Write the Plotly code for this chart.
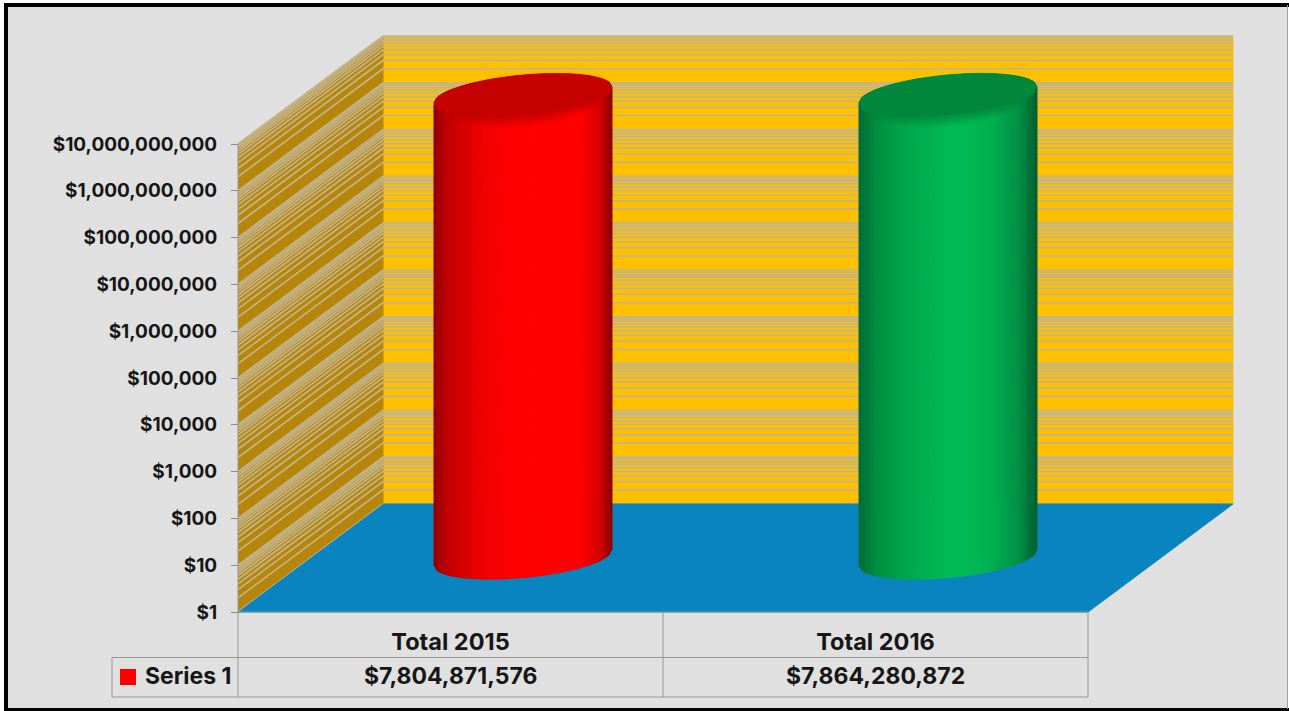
import math
import plotly.graph_objects as go

# Chart data
CATEGORIES = ["Total 2015", "Total 2016"]
VALUES = [7804871576, 7864280872]
SERIES_NAME = "Series 1"
TICK_VALUES = [1, 10, 100, 1000, 10000, 100000, 1000000, 10000000,
               100000000, 1000000000, 10000000000]
TICK_LABELS = ["$1", "$10", "$100", "$1,000", "$10,000", "$100,000", "$1,000,000",
               "$10,000,000", "$100,000,000", "$1,000,000,000", "$10,000,000,000"]

# Page and scene geometry (pixels)
W, H = 1289, 711
FRONT_LEFT, FRONT_BOTTOM = 238, 612
PX_PER_CAT, PX_PER_DECADE = 425.0, 46.8
DEPTH_X, DEPTH_Y = 145.0, 108.0
CYL_DEPTH = 0.5
CYL_A, CYL_B, CYL_TILT = 89.0, 20.0, 8.0

WALL = "#FFC000"
SIDE = "#B5860A"
FLOOR = "#0A84BE"
GRID = "#C4B48C"
BG = "#E0E0E0"
TABLE_LINE = "#989898"
TEXT = "#161616"
FONT = "Inter"

RED_STOPS = [(-1, "#8F0000"), (-.85, "#C00000"), (-.45, "#F00000"), (-.1, "#FF0000"),
             (.65, "#FF0000"), (.87, "#D40000"), (1, "#8A0000")]
GREEN_STOPS = [(-1, "#006B35"), (-.8, "#008F42"), (-.4, "#00AB4E"), (.1, "#00BC57"),
               (.5, "#00B050"), (.8, "#009045"), (1, "#005F2F")]
CAP_COLORS = ["#C40000", "#00873C"]
BODY_STOPS = [RED_STOPS, GREEN_STOPS]

x_min = -0.5 - FRONT_LEFT / PX_PER_CAT
x_max = x_min + W / PX_PER_CAT
log_min = -(H - FRONT_BOTTOM) / PX_PER_DECADE
log_max = log_min + H / PX_PER_DECADE


def project(cat, logv, depth=0.0):
    """Scene position of a point at a category, decade and depth."""
    return (cat + depth * DEPTH_X / PX_PER_CAT,
            10 ** (logv + depth * DEPTH_Y / PX_PER_DECADE))


def polygon(points, color, opacity=1.0, line_width=1):
    xs, ys = zip(*points)
    return go.Scatter(x=list(xs), y=list(ys), mode="lines", fill="toself", fillcolor=color,
                      line=dict(color=color, width=line_width), opacity=opacity,
                      hoverinfo="skip", showlegend=False)


def shade(stops, t):
    for (t0, c0), (t1, c1) in zip(stops, stops[1:]):
        if t <= t1:
            f = (t - t0) / (t1 - t0)
            rgb = [round(int(c0[i:i + 2], 16) * (1 - f) + int(c1[i:i + 2], 16) * f)
                   for i in (1, 3, 5)]
            return "rgb({},{},{})".format(*rgb)
    return stops[-1][1]


fig = go.Figure()

# Back wall, side wall and floor
fig.add_trace(polygon([project(-.5, 0, 1), project(1.5, 0, 1), project(1.5, 10, 1), project(-.5, 10, 1)], WALL))
fig.add_trace(polygon([project(-.5, 0, 0), project(-.5, 0, 1), project(-.5, 10, 1), project(-.5, 10, 0)], SIDE))

# Logarithmic gridlines run across the side wall and along the back wall
gx, gy = [], []
for k in range(10):
    for m in range(1, 10):
        lv = k + math.log10(m)
        pts = [project(-.5, lv, 0), project(-.5, lv, 1), project(1.5, lv, 1)]
        gx += [p[0] for p in pts] + [None]
        gy += [p[1] for p in pts] + [None]
pts = [project(-.5, 10, 0), project(-.5, 10, 1), project(1.5, 10, 1)]
gx += [p[0] for p in pts]
gy += [p[1] for p in pts]
fig.add_trace(go.Scatter(x=gx, y=gy, mode="lines", line=dict(color=GRID, width=1.7),
                         hoverinfo="skip", showlegend=False))

fig.add_trace(polygon([project(-.5, 0, 0), project(1.5, 0, 0), project(1.5, 0, 1), project(-.5, 0, 1)], FLOOR))


def rim(cat, logv, t, b_scale=1.0, front=True):
    """Point on a cylinder's elliptical rim, t running -1..1 across its width."""
    s = math.sqrt(max(0.0, 1 - t * t)) * (1 if front else -1)
    dy = CYL_B * b_scale * s - CYL_TILT * t
    return project(cat + t * CYL_A / PX_PER_CAT, logv - dy / PX_PER_DECADE, CYL_DEPTH)


# Cylinders: vertical strips reach the back of the rim, the darker cap fades into them
N = 70
for i, value in enumerate(VALUES):
    top = math.log10(value)
    for j in range(N):
        t0, t1 = -1 + 2 * j / N, -1 + 2 * (j + 1) / N
        pts = [rim(i, 0, t0), rim(i, top, t0, 1.0, False), rim(i, top, t1, 1.0, False), rim(i, 0, t1)]
        fig.add_trace(polygon(pts, shade(BODY_STOPS[i], (t0 + t1) / 2)))
    ts = [-1 + 2 * j / 60 for j in range(61)]
    back = [rim(i, top, t, 1.0, False) for t in ts]
    for scale, alpha in [(1.6, .1), (1.5, .15), (1.4, .2), (1.3, .25), (1.2, .3), (1.1, .4)]:
        fig.add_trace(polygon(back + [rim(i, top, t, scale) for t in reversed(ts)],
                              CAP_COLORS[i], alpha, 0))
    fig.add_trace(polygon(back + [rim(i, top, t, 1.0) for t in reversed(ts)], CAP_COLORS[i], 1, 0))

# Row of values under the axis, plus the series key
annotations = []
for i, value in enumerate(VALUES):
    annotations.append(dict(x=i, y=(H - 676) / H, xref="x", yref="paper", text=f"${value:,}",
                            showarrow=False, xanchor="center", yanchor="middle",
                            font=dict(family=FONT, size=23, color=TEXT, weight="bold")))
annotations.append(dict(x=x_min + 143 / PX_PER_CAT, y=(H - 676) / H, xref="x", yref="paper",
                        text=SERIES_NAME, showarrow=False, xanchor="left", yanchor="middle",
                        font=dict(family=FONT, size=23, color=TEXT, weight="bold")))
fig.add_trace(go.Scatter(x=[x_min + 128 / PX_PER_CAT], y=[10 ** ((FRONT_BOTTOM - 677) / PX_PER_DECADE)],
                         mode="markers", marker=dict(symbol="square", size=16, color="#FF0000"),
                         hoverinfo="skip", showlegend=False))


def px(xp):
    return xp / W


def py(yp):
    return 1 - yp / H


shapes = [
    dict(type="rect", xref="paper", yref="paper", x0=px(6), x1=px(1287), y0=py(709), y1=py(5),
         fillcolor=BG, line=dict(width=0), layer="below"),
]
for x0, y0, x1, y1, color, width in [
    (6, 3, 6, 711, "#000000", 4), (4, 5, 1289, 5, "#000000", 4), (4, 709.5, 1289, 709.5, "#000000", 3),
    (1287.5, 5, 1287.5, 709, "#A0A0A0", 1),
    (112, 657.5, 1088, 657.5, TABLE_LINE, 1), (112, 697, 1088, 697, TABLE_LINE, 1),
    (112, 657.5, 112, 697, TABLE_LINE, 1), (238, 612, 1088, 612, TABLE_LINE, 1),
    (238, 612, 238, 697, TABLE_LINE, 1), (663, 612, 663, 697, TABLE_LINE, 1),
    (1088, 612, 1088, 697, TABLE_LINE, 1), (238, 144, 238, 612, TABLE_LINE, 1),
]:
    shapes.append(dict(type="line", xref="paper", yref="paper", x0=px(x0), x1=px(x1),
                       y0=py(y0), y1=py(y1), line=dict(color=color, width=width), layer="above"))

fig.update_layout(
    width=W, height=H, autosize=False,
    margin=dict(l=0, r=0, t=0, b=0, pad=0),
    paper_bgcolor="#FFFFFF", plot_bgcolor="rgba(0,0,0,0)",
    showlegend=False, shapes=shapes, annotations=annotations,
    xaxis=dict(range=[x_min, x_max], domain=[0, 1], anchor="free", position=(H - FRONT_BOTTOM) / H,
               tickmode="array", tickvals=list(range(len(CATEGORIES))), ticktext=CATEGORIES,
               showgrid=False, zeroline=False, showline=False, ticks="", ticklabelstandoff=13,
               tickfont=dict(family=FONT, size=23.5, color=TEXT, weight="bold"), fixedrange=True),
    yaxis=dict(type="log", range=[log_min, log_max], domain=[0, 1], anchor="free",
               position=FRONT_LEFT / W, tickmode="array", tickvals=TICK_VALUES, ticktext=TICK_LABELS,
               showgrid=False, zeroline=False, showline=False, ticks="outside", ticklen=7,
               tickcolor="#8A8A8A", tickwidth=1, ticklabelstandoff=10,
               tickfont=dict(family=FONT, size=19, color=TEXT, weight="bold"), fixedrange=True),
)

fig.write_html("out.html", config=dict(displayModeBar=False))
